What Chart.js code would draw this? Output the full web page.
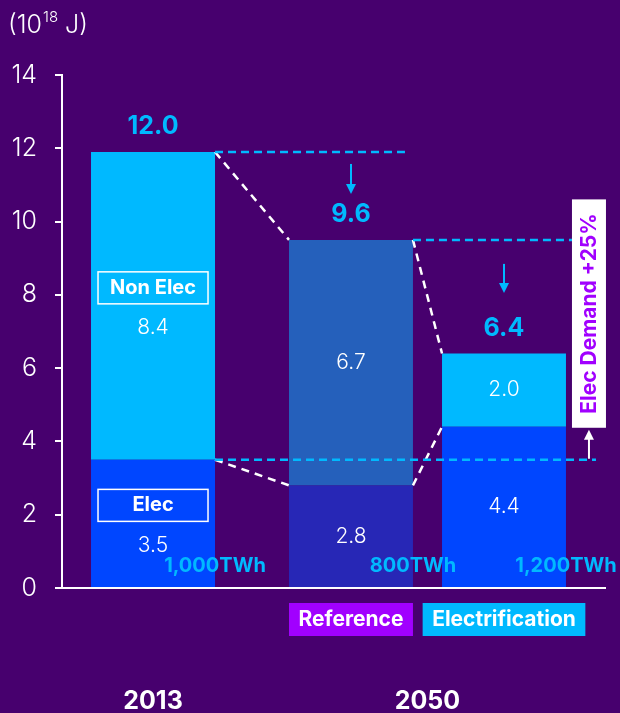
<!DOCTYPE html>
<html>
<head>
<meta charset="utf-8">
<script src="https://cdn.jsdelivr.net/npm/chart.js@4.4.1/dist/chart.umd.min.js"></script>
<style>
  html, body { margin: 0; padding: 0; background: #47006e; }
  #wrap { width: 620px; height: 713px; position: relative; }
</style>
</head>
<body>
<div id="wrap"><canvas id="energy"></canvas></div>
<script>
// Final energy demand, 10^18 J
const years = [2013, 2050];
const scenarios = ['2013', 'Reference', 'Electrification'];
const scenarioYears = [2013, 2050, 2050];
const scenarioStacks = ['reference', 'reference', 'electrification'];
const elecDemand = [3.5, 2.8, 4.4];
const nonElecDemand = [8.4, 6.7, 2.0];
const totalLabels = ['12.0', '9.6', '6.4'];
const elecTwhLabels = ['1,000TWh', '800TWh', '1,200TWh'];
const yTicks = [0, 2, 4, 6, 8, 10, 12, 14];

const BG = '#47006e';
const CYAN = '#00b9ff';
const BLUE = '#0046ff';
const PURPLE = '#a100ff';
const WHITE = '#ffffff';
const elecColors = [BLUE, '#2727b6', BLUE];
const nonElecColors = [CYAN, '#2560bb', CYAN];
const FONT = 'Inter, "Noto Sans", sans-serif';

const datasets = [];
scenarios.forEach((name, i) => {
  datasets.push({
    label: name + ' Elec',
    data: [{ x: scenarioYears[i], y: elecDemand[i] }],
    stack: scenarioStacks[i],
    backgroundColor: elecColors[i]
  });
  datasets.push({
    label: name + ' Non Elec',
    data: [{ x: scenarioYears[i], y: nonElecDemand[i] }],
    stack: scenarioStacks[i],
    backgroundColor: nonElecColors[i]
  });
});

function dashedLine(ctx, x1, y1, x2, y2, color, width, dash) {
  ctx.save();
  ctx.strokeStyle = color;
  ctx.lineWidth = width;
  ctx.setLineDash(dash);
  ctx.beginPath();
  ctx.moveTo(x1, y1);
  ctx.lineTo(x2, y2);
  ctx.stroke();
  ctx.restore();
}

function arrow(ctx, x, yFrom, yTo, color) {
  const dir = yTo > yFrom ? 1 : -1;
  ctx.save();
  ctx.strokeStyle = color;
  ctx.fillStyle = color;
  ctx.lineWidth = 2;
  ctx.beginPath();
  ctx.moveTo(x, yFrom);
  ctx.lineTo(x, yTo - dir * 8);
  ctx.stroke();
  ctx.beginPath();
  ctx.moveTo(x, yTo);
  ctx.lineTo(x - 5, yTo - dir * 10);
  ctx.lineTo(x + 5, yTo - dir * 10);
  ctx.closePath();
  ctx.fill();
  ctx.restore();
}

function text(ctx, str, x, y, font, color, align) {
  ctx.save();
  ctx.font = font;
  ctx.fillStyle = color;
  ctx.textAlign = align || 'center';
  ctx.textBaseline = 'middle';
  ctx.fillText(str, x, y);
  ctx.restore();
}

const annotations = {
  id: 'annotations',
  beforeDraw(chart) {
    const ctx = chart.ctx;
    ctx.save();
    ctx.fillStyle = BG;
    ctx.fillRect(0, 0, chart.width, chart.height);
    ctx.restore();
  },
  afterDatasetsDraw(chart) {
    const ctx = chart.ctx;
    const yScale = chart.scales.y;
    const zeroY = yScale.getPixelForValue(0);

    const bars = scenarios.map((_, i) => {
      const e = chart.getDatasetMeta(2 * i).data[0];
      const n = chart.getDatasetMeta(2 * i + 1).data[0];
      return {
        cx: e.x,
        left: e.x - e.width / 2,
        right: e.x + e.width / 2,
        elecTop: e.y,
        elecMid: (e.y + e.base) / 2,
        top: n.y,
        nonMid: (n.y + n.base) / 2
      };
    });
    const [b0, b1, b2] = bars;

    // connectors between stack boundaries
    const wd = [8, 6];
    dashedLine(ctx, b0.right, b0.top, b1.left, b1.top, WHITE, 2.5, wd);
    dashedLine(ctx, b0.right, b0.elecTop, b1.left, b1.elecTop, WHITE, 2.5, wd);
    dashedLine(ctx, b1.right, b1.top, b2.left, b2.top, WHITE, 2.5, wd);
    dashedLine(ctx, b1.right, b1.elecTop, b2.left, b2.elecTop, WHITE, 2.5, wd);

    // "Elec Demand +25%" tag
    ctx.save();
    const tagFont = 'bold 21px ' + FONT;
    ctx.font = tagFont;
    const tagLen = ctx.measureText('Elec Demand +25%').width + 28;
    ctx.restore();
    const tagLeft = b2.right + 6;
    const tagW = 34;
    const tagBottom = b2.elecTop + 1;
    const tagTop = tagBottom - tagLen;
    const tagCx = tagLeft + tagW / 2;

    // reference levels
    const cd = [8, 5];
    dashedLine(ctx, b0.right, b0.top, b1.right - 8, b0.top, CYAN, 2.5, cd);
    dashedLine(ctx, b1.right, b1.top, tagLeft, b1.top, CYAN, 2.5, cd);
    dashedLine(ctx, b0.right, b0.elecTop, tagCx + 7, b0.elecTop, CYAN, 2.5, cd);

    ctx.save();
    ctx.fillStyle = WHITE;
    ctx.fillRect(tagLeft, tagTop, tagW, tagLen);
    ctx.translate(tagCx + 1, (tagTop + tagBottom) / 2);
    ctx.rotate(-Math.PI / 2);
    ctx.font = tagFont;
    ctx.fillStyle = PURPLE;
    ctx.textAlign = 'center';
    ctx.textBaseline = 'middle';
    ctx.fillText('Elec Demand +25%', 0, 0);
    ctx.restore();
    arrow(ctx, tagCx, b0.elecTop - 1, tagBottom + 2, WHITE);

    // totals
    const totalFont = 'bold 25px ' + FONT;
    bars.forEach((b, i) => text(ctx, totalLabels[i], b.cx, b.top - 25, totalFont, CYAN));

    // downward arrows between previous total level and the new total
    arrow(ctx, b1.cx, b0.top + 12, b0.top + 42, CYAN);
    arrow(ctx, b2.cx, b1.top + 24, b1.top + 53, CYAN);

    // segment values
    const valFont = '300 21px ' + FONT;
    const boxFont = 'bold 20px ' + FONT;
    bars.forEach((b, i) => {
      if (i === 0) {
        [['Non Elec', b.nonMid, nonElecDemand[i]], ['Elec', b.elecMid, elecDemand[i]]].forEach(([lab, mid, v]) => {
          const by = mid - 18;
          ctx.save();
          ctx.strokeStyle = WHITE;
          ctx.lineWidth = 1.5;
          ctx.strokeRect(b.cx - 55, by - 16, 110, 32);
          ctx.restore();
          text(ctx, lab, b.cx, by, boxFont, WHITE);
          text(ctx, v.toFixed(1), b.cx, mid + 22, valFont, WHITE);
        });
      } else {
        text(ctx, nonElecDemand[i].toFixed(1), b.cx, b.nonMid, valFont, WHITE);
        text(ctx, elecDemand[i].toFixed(1), b.cx, b.elecMid, valFont, WHITE);
      }
    });

    // electricity volume
    const twhFont = 'bold 20px ' + FONT;
    bars.forEach((b, i) => text(ctx, elecTwhLabels[i], b.right, zeroY - 22, twhFont, CYAN));

    // scenario tags under the 2050 bars
    const tagFill = [null, PURPLE, CYAN];
    const scenFont = 'bold 21px ' + FONT;
    [1, 2].forEach(i => {
      const b = bars[i];
      ctx.save();
      ctx.font = scenFont;
      const w = ctx.measureText(scenarios[i]).width + 19;
      ctx.fillStyle = tagFill[i];
      ctx.fillRect(b.cx - w / 2, zeroY + 15, w, 33);
      ctx.restore();
      text(ctx, scenarios[i], b.cx, zeroY + 32, scenFont, WHITE);
    });

    // unit label
    ctx.save();
    ctx.fillStyle = WHITE;
    ctx.textBaseline = 'alphabetic';
    ctx.textAlign = 'left';
    ctx.font = '300 25px ' + FONT;
    let x = 8;
    ctx.fillText('(10', x, 33);
    x += ctx.measureText('(10').width + 1;
    ctx.font = '300 15px ' + FONT;
    ctx.fillText('18', x, 22);
    x += ctx.measureText('18').width;
    ctx.font = '300 25px ' + FONT;
    ctx.fillText(' J)', x, 33);
    ctx.restore();
  }
};

new Chart(document.getElementById('energy'), {
  type: 'bar',
  data: { datasets },
  plugins: [annotations],
  options: {
    responsive: true,
    maintainAspectRatio: false,
    animation: false,
    skipNull: true,
    categoryPercentage: 1.115,
    barPercentage: 0.81,
    maxBarThickness: 124,
    layout: { padding: { top: 75, right: 15, bottom: 0, left: 0 } },
    plugins: { legend: { display: false }, tooltip: { enabled: false } },
    scales: {
      x: {
        type: 'linear',
        min: 2000.73,
        max: 2073.93,
        offset: false,
        grid: { display: false, drawTicks: false },
        border: { display: true, color: WHITE, width: 2 },
        afterBuildTicks: (scale) => { scale.ticks = years.map(v => ({ value: v })); },
        afterFit: (scale) => { scale.height = 125; },
        ticks: {
          color: WHITE,
          padding: 98,
          font: { family: FONT, size: 25, weight: 'bold' },
          callback: (v) => String(v)
        }
      },
      y: {
        min: 0,
        max: 14,
        stacked: true,
        afterBuildTicks: (scale) => { scale.ticks = yTicks.map(v => ({ value: v })); },
        afterFit: (scale) => { scale.width = 62; },
        grid: { display: true, drawOnChartArea: false, drawTicks: true, tickLength: 7, color: WHITE, lineWidth: 2 },
        border: { display: true, color: WHITE, width: 2 },
        ticks: {
          color: WHITE,
          padding: 18,
          font: { family: FONT, size: 25, weight: '300' }
        }
      }
    }
  }
});
</script>
</body>
</html>
